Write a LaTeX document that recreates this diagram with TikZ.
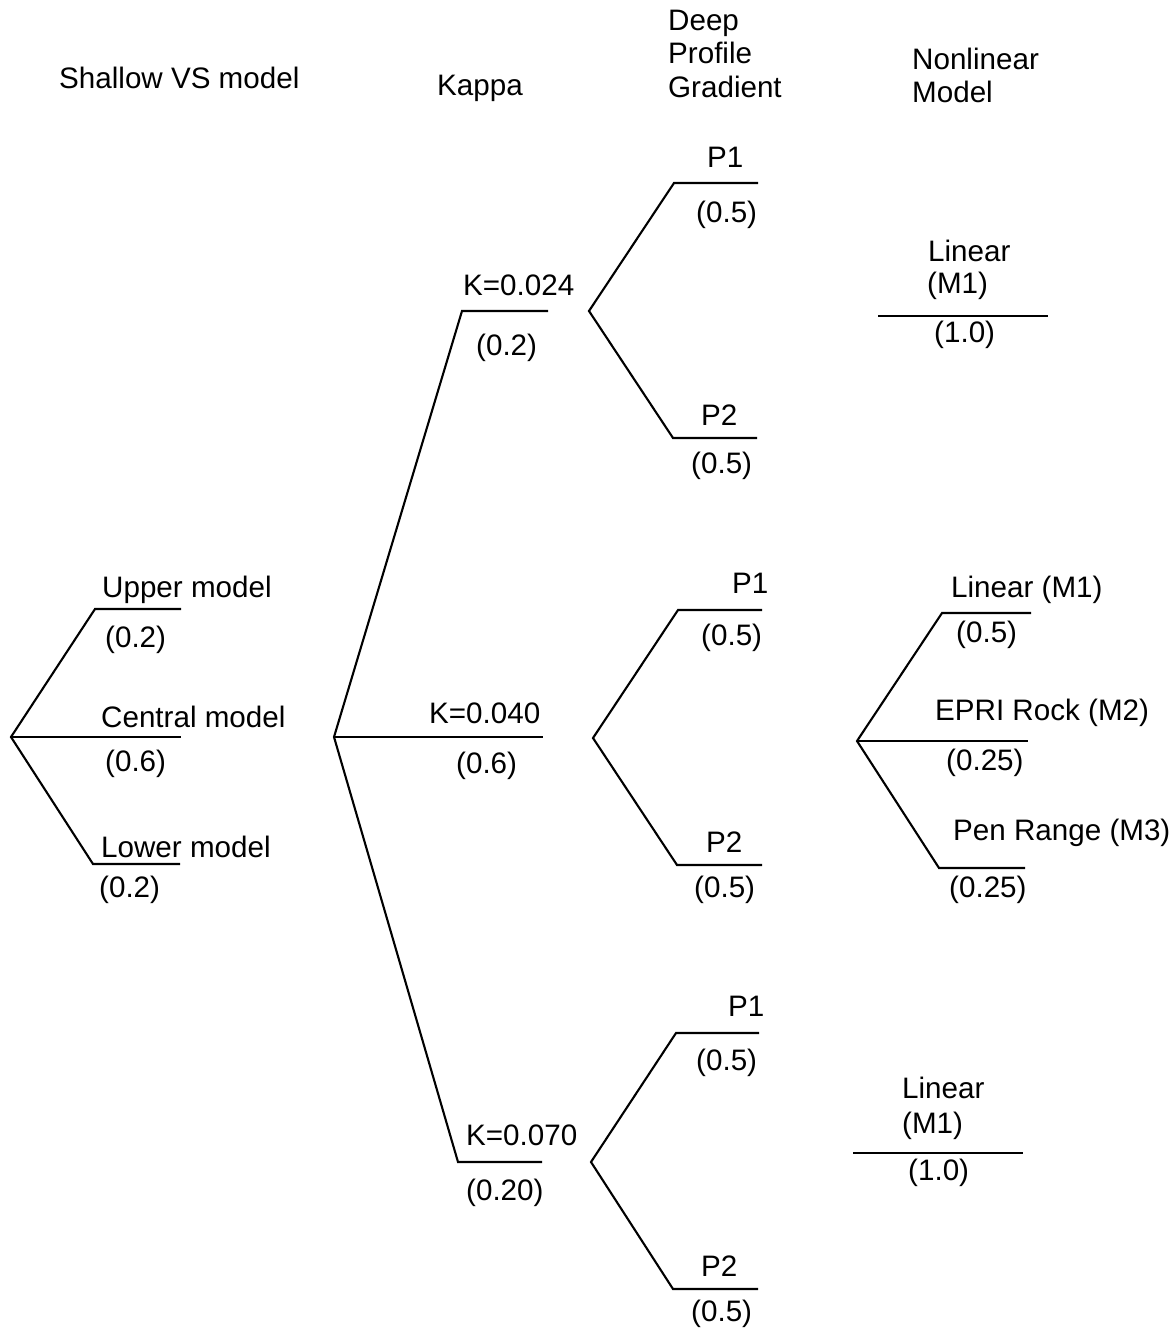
\documentclass[tikz,border=0pt]{standalone}
\usepackage{fontspec}
\setmainfont{Liberation Sans}
\begin{document}
\begin{tikzpicture}[x=1pt,y=-1pt,
  br/.style={line width=2.1pt, line join=miter, black},
  lbl/.style={inner sep=0pt, anchor=base west, font=\fontsize{29.6}{33}\selectfont}]
\useasboundingbox (0,0) rectangle (1171,1333);
% ---------- headers ----------
\node[lbl] (hS) at (59,88) {Shallow VS model};
\node[lbl] (hK) at (437,95) {Kappa};
\node[lbl] (hD1) at (668,30) {Deep};
\node[lbl] (hD2) at (668,63) {Profile};
\node[lbl] (hD3) at (668,97) {Gradient};
\node[lbl] (hN1) at (912,69) {Nonlinear};
\node[lbl] (hN2) at (912,102) {Model};
% ---------- coordinates ----------
\coordinate (s0) at (11,737);
\coordinate (sU1) at (95,609);  \coordinate (sU2) at (181,609);
\coordinate (sC) at (181,737);
\coordinate (sL1) at (93,864);  \coordinate (sL2) at (180,864);
\coordinate (k0) at (334,737);
\coordinate (kU1) at (462,311); \coordinate (kU2) at (548,311);
\coordinate (kC) at (543,737);
\coordinate (kL1) at (458,1162); \coordinate (kL2) at (542,1162);
\coordinate (d1) at (589,311);
\coordinate (d1a) at (674,183); \coordinate (d1b) at (758,183);
\coordinate (d1c) at (673,438); \coordinate (d1d) at (757,438);
\coordinate (d2) at (593,738);
\coordinate (d2a) at (678,610); \coordinate (d2b) at (762,610);
\coordinate (d2c) at (677,865); \coordinate (d2d) at (762,865);
\coordinate (d3) at (591,1162);
\coordinate (d3a) at (676,1033); \coordinate (d3b) at (759,1033);
\coordinate (d3c) at (673,1289); \coordinate (d3d) at (758,1289);
\coordinate (n1a) at (878,316); \coordinate (n1b) at (1048,316);
\coordinate (n2) at (857,741);
\coordinate (n2a) at (942,613); \coordinate (n2b) at (1031,613);
\coordinate (n2c) at (1028,741);
\coordinate (n2d) at (939,868); \coordinate (n2e) at (1025,868);
\coordinate (n3a) at (853,1153); \coordinate (n3b) at (1023,1153);
% ---------- branches ----------
\draw[br] (sU2) -- (sU1) -- (s0) -- (sL1) -- (sL2);
\draw[br] (s0) -- (sC);
\draw[br] (kU2) -- (kU1) -- (k0) -- (kL1) -- (kL2);
\draw[br] (k0) -- (kC);
\draw[br] (d1b) -- (d1a) -- (d1) -- (d1c) -- (d1d);
\draw[br] (d2b) -- (d2a) -- (d2) -- (d2c) -- (d2d);
\draw[br] (d3b) -- (d3a) -- (d3) -- (d3c) -- (d3d);
\draw[br] (n1a) -- (n1b);
\draw[br] (n2b) -- (n2a) -- (n2) -- (n2d) -- (n2e);
\draw[br] (n2) -- (n2c);
\draw[br] (n3a) -- (n3b);
% ---------- shallow labels ----------
\node[lbl] (tU) at (102,597) {Upper model};
\node[lbl] (pU) at (105,647) {(0.2)};
\node[lbl] (tC) at (101,727) {Central model};
\node[lbl] (pC) at (105,771) {(0.6)};
\node[lbl] (tL) at (101,857) {Lower model};
\node[lbl] (pL) at (99,897) {(0.2)};
% ---------- kappa labels ----------
\node[lbl] (tK1) at (463,295) {K=0.024};
\node[lbl] (pK1) at (476,355) {(0.2)};
\node[lbl] (tK2) at (429,723) {K=0.040};
\node[lbl] (pK2) at (456,773) {(0.6)};
\node[lbl] (tK3) at (466,1145) {K=0.070};
\node[lbl] (pK3) at (466,1200) {(0.20)};
% ---------- deep profile labels ----------
\node[lbl] (tP11) at (707,167) {P1};
\node[lbl] (pP11) at (696,222) {(0.5)};
\node[lbl] (tP12) at (701,425) {P2};
\node[lbl] (pP12) at (691,473) {(0.5)};
\node[lbl] (tP21) at (732,593) {P1};
\node[lbl] (pP21) at (701,645) {(0.5)};
\node[lbl] (tP22) at (706,852) {P2};
\node[lbl] (pP22) at (694,897) {(0.5)};
\node[lbl] (tP31) at (728,1016) {P1};
\node[lbl] (pP31) at (696,1070) {(0.5)};
\node[lbl] (tP32) at (701,1276) {P2};
\node[lbl] (pP32) at (691,1321) {(0.5)};
% ---------- nonlinear labels ----------
\node[lbl] (tN1a) at (928,261) {Linear};
\node[lbl] (tN1b) at (927,293) {(M1)};
\node[lbl] (pN1) at (934,342) {(1.0)};
\node[lbl] (tN21) at (951,597) {Linear (M1)};
\node[lbl] (pN21) at (956,642) {(0.5)};
\node[lbl] (tN22) at (935,720) {EPRI Rock (M2)};
\node[lbl] (pN22) at (946,770) {(0.25)};
\node[lbl] (tN23) at (953,840) {Pen Range (M3)};
\node[lbl] (pN23) at (949,897) {(0.25)};
\node[lbl] (tN3a) at (902,1098) {Linear};
\node[lbl] (tN3b) at (902,1133) {(M1)};
\node[lbl] (pN3) at (908,1180) {(1.0)};
\end{tikzpicture}
\end{document}
